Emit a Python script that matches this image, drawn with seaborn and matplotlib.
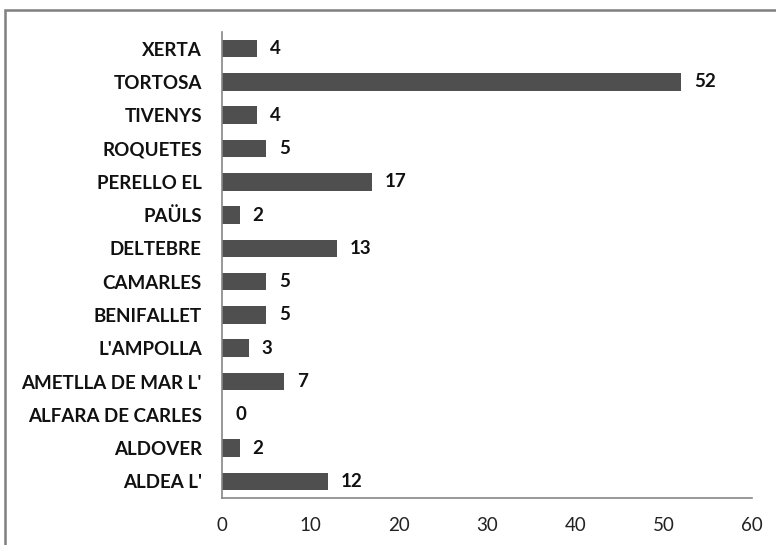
import matplotlib
matplotlib.use("Agg")
import matplotlib.pyplot as plt
import seaborn as sns
import pandas as pd
from matplotlib.patches import Rectangle

categories = ["XERTA", "TORTOSA", "TIVENYS", "ROQUETES", "PERELLO EL", "PAÜLS",
              "DELTEBRE", "CAMARLES", "BENIFALLET", "L'AMPOLLA",
              "AMETLLA DE MAR L'", "ALFARA DE CARLES", "ALDOVER", "ALDEA L'"]
values = [4, 52, 4, 5, 17, 2, 13, 5, 5, 3, 7, 0, 2, 12]
x_ticks = [0, 10, 20, 30, 40, 50, 60]

df = pd.DataFrame({"cat": categories, "val": values})

sns.set_theme(style="white")
plt.rcParams['font.family'] = ['Lato', 'DejaVu Sans']

fig = plt.figure(figsize=(7.76, 5.45), dpi=100)
ax = fig.add_axes([222/776, 1-498/545, (752-222)/776, (498-32)/545])

sns.barplot(data=df, x="val", y="cat", orient="h", color="#4f4f4f",
            saturation=1, width=0.53, ax=ax, edgecolor="none")

ax.set_xlim(0, 60)
ax.set_xticks(x_ticks)
ax.set_xticklabels([str(t) for t in x_ticks], fontsize=13.5, color="#222222")
ax.set_xlabel("")
ax.set_ylabel("")
for lab in ax.get_yticklabels():
    lab.set_fontweight("bold")
    lab.set_fontsize(13.5)
    lab.set_color("#111111")
ax.tick_params(axis="y", length=0, pad=14.5)
ax.tick_params(axis="x", length=0, pad=14)

for s in ["top", "right"]:
    ax.spines[s].set_visible(False)
for s in ["left", "bottom"]:
    ax.spines[s].set_color("#868686")
    ax.spines[s].set_linewidth(1.2)

for i, v in enumerate(values):
    ax.annotate(str(v), xy=(v, i), xytext=(13, 0), textcoords="offset pixels",
                ha="left", va="center", fontsize=13.5, fontweight="bold", color="#111111")

fig.patches.append(Rectangle((5/776, -0.1), 1.2, (545-10)/545 + 0.1,
                             transform=fig.transFigure, fill=False,
                             edgecolor="#7f7f7f", linewidth=1.8, figure=fig))

fig.savefig("out.png", dpi=100, facecolor="white")
